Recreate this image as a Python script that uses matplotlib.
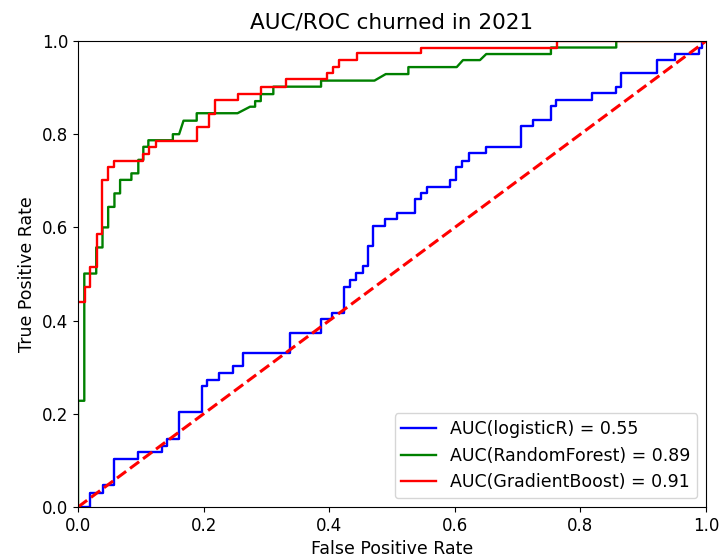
import matplotlib
matplotlib.use("Agg")
import matplotlib.pyplot as plt

# ROC vertices
fpr_lr = [0, 0.019, 0.019, 0.039, 0.039, 0.057, 0.057, 0.096, 0.096, 0.134, 0.134, 0.141, 0.141,
          0.161, 0.161, 0.198, 0.198, 0.206, 0.206, 0.225, 0.225, 0.246, 0.246, 0.263, 0.263,
          0.338, 0.338, 0.387, 0.387, 0.405, 0.405, 0.424, 0.424, 0.433, 0.433, 0.442, 0.442,
          0.453, 0.453, 0.461, 0.461, 0.470, 0.470, 0.489, 0.489, 0.508, 0.508, 0.537, 0.537,
          0.546, 0.546, 0.555, 0.555, 0.593, 0.593, 0.602, 0.602, 0.611, 0.611, 0.622, 0.622,
          0.650, 0.650, 0.706, 0.706, 0.725, 0.725, 0.753, 0.753, 0.761, 0.761, 0.818, 0.818,
          0.857, 0.857, 0.864, 0.864, 0.922, 0.922, 0.951, 0.951, 0.988, 0.988, 0.993, 0.993, 1.0]
tpr_lr = [0, 0, 0.030, 0.030, 0.047, 0.047, 0.103, 0.103, 0.117, 0.117, 0.130, 0.130, 0.147,
          0.147, 0.204, 0.204, 0.260, 0.260, 0.273, 0.273, 0.287, 0.287, 0.303, 0.303, 0.330,
          0.330, 0.373, 0.373, 0.403, 0.403, 0.417, 0.417, 0.473, 0.473, 0.487, 0.487, 0.503,
          0.503, 0.517, 0.517, 0.560, 0.560, 0.603, 0.603, 0.617, 0.617, 0.630, 0.630, 0.660,
          0.660, 0.673, 0.673, 0.686, 0.686, 0.702, 0.702, 0.729, 0.729, 0.743, 0.743, 0.760,
          0.760, 0.773, 0.773, 0.818, 0.818, 0.830, 0.830, 0.860, 0.860, 0.873, 0.873, 0.888,
          0.888, 0.901, 0.901, 0.931, 0.931, 0.959, 0.959, 0.972, 0.972, 0.986, 0.986, 1.0, 1.0]

fpr_rf = [0, 0, 0.010, 0.010, 0.029, 0.029, 0.039, 0.039, 0.048, 0.048, 0.058, 0.058, 0.067,
          0.067, 0.085, 0.085, 0.096, 0.096, 0.104, 0.104, 0.112, 0.112, 0.151, 0.151, 0.161,
          0.168, 0.189, 0.189, 0.254, 0.274, 0.282, 0.282, 0.291, 0.291, 0.311, 0.311, 0.387,
          0.387, 0.472, 0.490, 0.526, 0.526, 0.603, 0.613, 0.640, 0.650, 0.753, 0.753, 0.857,
          0.857, 1.0]
tpr_rf = [0, 0.228, 0.228, 0.501, 0.501, 0.557, 0.557, 0.600, 0.600, 0.644, 0.644, 0.673, 0.673,
          0.702, 0.702, 0.716, 0.716, 0.745, 0.745, 0.773, 0.773, 0.787, 0.787, 0.800, 0.800,
          0.829, 0.829, 0.845, 0.845, 0.859, 0.859, 0.871, 0.871, 0.886, 0.886, 0.902, 0.902,
          0.915, 0.915, 0.929, 0.929, 0.944, 0.944, 0.959, 0.959, 0.972, 0.972, 0.986, 0.986,
          1.0, 1.0]

fpr_gb = [0, 0.011, 0.011, 0.019, 0.019, 0.030, 0.030, 0.038, 0.038, 0.047, 0.047, 0.058, 0.058,
          0.104, 0.104, 0.113, 0.113, 0.124, 0.124, 0.190, 0.190, 0.208, 0.208, 0.218, 0.218,
          0.254, 0.254, 0.292, 0.292, 0.331, 0.331, 0.396, 0.396, 0.406, 0.406, 0.416, 0.416,
          0.445, 0.445, 0.546, 0.546, 0.762, 0.762, 1.0]
tpr_gb = [0.441, 0.441, 0.473, 0.473, 0.516, 0.516, 0.586, 0.586, 0.702, 0.702, 0.729, 0.729,
          0.742, 0.742, 0.757, 0.757, 0.773, 0.773, 0.786, 0.786, 0.815, 0.815, 0.844, 0.844,
          0.873, 0.873, 0.887, 0.887, 0.901, 0.901, 0.918, 0.918, 0.931, 0.931, 0.944, 0.944,
          0.960, 0.960, 0.974, 0.974, 0.986, 0.986, 1.0, 1.0]

auc_lr, auc_rf, auc_gb = 0.55, 0.89, 0.91

fig = plt.figure(figsize=(7.19, 5.6), dpi=100)
ax = fig.add_axes([0.1085, 0.0946, 0.8735, 0.8322])

ax.plot(fpr_lr, tpr_lr, 'b', lw=1.7, label='AUC(logisticR) = %0.2f' % auc_lr)
ax.plot(fpr_rf, tpr_rf, 'g', lw=1.7, label='AUC(RandomForest) = %0.2f' % auc_rf)
ax.plot(fpr_gb, tpr_gb, 'r', lw=1.7, label='AUC(GradientBoost) = %0.2f' % auc_gb)
ax.plot([0, 1], [0, 1], 'r--', lw=2.2)

ax.set_xlim(0, 1)
ax.set_ylim(0, 1)
ax.set_title('AUC/ROC churned in 2021', fontsize=15.5, pad=9)
ax.set_xlabel('False Positive Rate', fontsize=12.5)
ax.set_ylabel('True Positive Rate', fontsize=12.5)
ax.tick_params(labelsize=12)
ax.legend(loc='lower right', fontsize=12.5)

fig.savefig('out.png', dpi=100)
